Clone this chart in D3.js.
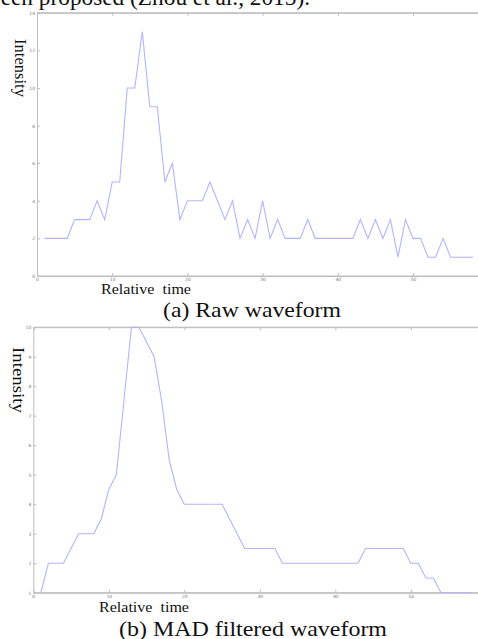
<!DOCTYPE html>
<html lang="en">
<head>
  <meta charset="UTF-8">
  <title>Raw vs MAD filtered waveform</title>
  <script src="https://d3js.org/d3.v7.min.js"></script>
  <style>
    body { margin: 0; background: #fff; }
    svg { display: block; }
    .serif { font-family: "Liberation Serif", "DejaVu Serif", serif; fill: #111; }
    .axis path, .axis line { stroke: #bdbdbd; stroke-width: 1; }
    .axis text { font-family: "DejaVu Sans", sans-serif; font-size: 4.5px; fill: #777; }
  </style>
</head>
<body>
  <svg id="chart" width="478" height="639"></svg>
  <script>
    // relative time steps (shared by both panels)
    var timeSteps = d3.range(1, 59);
    // (a) raw waveform intensities
    var rawValues = [2, 2, 2, 2, 3, 3, 3, 4, 3, 5, 5, 10, 10, 13, 9, 9, 5, 6, 3, 4,
                     4, 4, 5, 4, 3, 4, 2, 3, 2, 4, 2, 3, 2, 2, 2, 3, 2, 2, 2, 2,
                     2, 2, 3, 2, 3, 2, 3, 1, 3, 2, 2, 1, 1, 2, 1, 1, 1, 1];
    // (b) MAD filtered intensities
    var madValues = [1, 2, 2, 2, 2.5, 3, 3, 3, 3.5, 4.5, 5, 7.5, 10, 10, 9.5, 9, 7.5, 5.5, 4.5, 4,
                     4, 4, 4, 4, 4, 3.5, 3, 2.5, 2.5, 2.5, 2.5, 2.5, 2, 2, 2, 2, 2, 2, 2, 2,
                     2, 2, 2, 2.5, 2.5, 2.5, 2.5, 2.5, 2.5, 2, 2, 1.5, 1.5, 1, 1, 1, 1, 1];
    var rawYTicks = [0, 2, 4, 6, 8, 10, 12, 14];
    var madYTicks = [1, 2, 3, 4, 5, 6, 7, 8, 9, 10];
    var xTicks = [0, 10, 20, 30, 40, 50];

    var svg = d3.select("#chart");

    // clipped sentence from the page above
    svg.append("text")
      .attr("class", "serif")
      .attr("x", -11)
      .attr("y", 5)
      .attr("textLength", 321)
      .attr("lengthAdjust", "spacingAndGlyphs")
      .style("font-size", "23px")
      .text("been proposed (Zhou et al., 2015).");

    function drawPanel(opts) {
      var x = d3.scaleLinear().domain([0, 60]).range([opts.left, opts.left + opts.xSpan]);
      var y = d3.scaleLinear().domain(opts.yDomain).range([opts.bottom, opts.top]);
      var g = svg.append("g");

      g.append("g").attr("class", "axis")
        .attr("transform", "translate(0," + opts.bottom + ")")
        .call(d3.axisBottom(x).tickValues(xTicks).tickSize(-3).tickSizeOuter(0).tickPadding(2));
      g.append("g").attr("class", "axis")
        .attr("transform", "translate(0," + opts.top + ")")
        .call(d3.axisTop(x).tickValues(xTicks).tickSize(-3).tickSizeOuter(0).tickFormat(""));
      g.append("g").attr("class", "axis")
        .attr("transform", "translate(" + opts.left + ",0)")
        .call(d3.axisLeft(y).tickValues(opts.yTicks).tickSize(-3).tickSizeOuter(0).tickPadding(2));

      // frame lines run past the right edge, as in the cropped figure
      g.append("line")
        .attr("x1", opts.left).attr("x2", x(60))
        .attr("y1", opts.top).attr("y2", opts.top)
        .attr("stroke", "#bdbdbd");
      g.append("line")
        .attr("x1", opts.left).attr("x2", x(60))
        .attr("y1", opts.bottom).attr("y2", opts.bottom)
        .attr("stroke", "#bdbdbd");

      var line = d3.line()
        .x(function(d, i) { return x(timeSteps[i]); })
        .y(function(d) { return y(d); });

      g.append("path")
        .datum(opts.values)
        .attr("fill", "none")
        .attr("stroke", "#b3b3ff")
        .attr("stroke-width", 1.1)
        .attr("d", line);

      g.append("text")
        .attr("class", "serif")
        .attr("transform", "translate(" + opts.yLabelX + "," + opts.yLabelY + ") rotate(90)")
        .attr("textLength", opts.yLabelLen)
        .attr("lengthAdjust", "spacingAndGlyphs")
        .style("font-size", "16px")
        .text("Intensity");

      g.append("text")
        .attr("class", "serif")
        .attr("x", opts.xLabelX)
        .attr("y", opts.xLabelY)
        .attr("xml:space", "preserve")
        .attr("textLength", 90)
        .attr("lengthAdjust", "spacingAndGlyphs")
        .style("font-size", "15.5px")
        .style("white-space", "pre")
        .text("Relative  time");

      g.append("text")
        .attr("class", "serif")
        .attr("x", opts.captionX)
        .attr("y", opts.captionY)
        .attr("textLength", opts.captionLen)
        .attr("lengthAdjust", "spacingAndGlyphs")
        .style("font-size", "21px")
        .text(opts.caption);
    }

    drawPanel({
      values: rawValues, yDomain: [0, 14], yTicks: rawYTicks,
      left: 37, xSpan: 451.2, top: 12.8, bottom: 276,
      yLabelX: 15, yLabelY: 39, yLabelLen: 58, xLabelX: 101, xLabelY: 293.5,
      captionX: 163, captionY: 317, captionLen: 178, caption: "(a) Raw waveform"
    });

    drawPanel({
      values: madValues, yDomain: [1, 10], yTicks: madYTicks,
      left: 33.3, xSpan: 453, top: 327.2, bottom: 592.7,
      yLabelX: 13, yLabelY: 347, yLabelLen: 66, xLabelX: 99, xLabelY: 611.5,
      captionX: 119, captionY: 635.5, captionLen: 268, caption: "(b) MAD filtered waveform"
    });
  </script>
</body>
</html>
